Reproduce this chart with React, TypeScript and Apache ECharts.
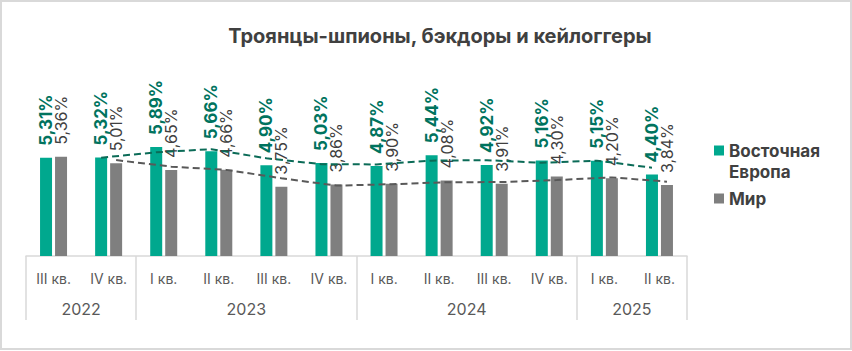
import React, { useEffect, useRef } from 'react';
import * as echarts from 'echarts';

const chartTitle = 'Троянцы-шпионы, бэкдоры и кейлоггеры';
const quarters = ['III кв.', 'IV кв.', 'I кв.', 'II кв.', 'III кв.', 'IV кв.', 'I кв.', 'II кв.', 'III кв.', 'IV кв.', 'I кв.', 'II кв.'];
const yearLabels = ['2022', '2023', '2024', '2025'];
const yearSpans = [2, 4, 4, 2];
const seriesNames = ['Восточная Европа', 'Мир'];
const easternEurope = [5.31, 5.32, 5.89, 5.66, 4.9, 5.03, 4.87, 5.44, 4.92, 5.16, 5.15, 4.4];
const world = [5.36, 5.01, 4.65, 4.66, 3.75, 3.86, 3.9, 4.08, 3.91, 4.3, 4.2, 3.84];

const W = 852;
const H = 351;
const GRID_LEFT = 26;
const GRID_RIGHT = 687;
const GRID_BOTTOM = 256;
const Y_MAX = 8;
const GRID_TOP = 108;
const BAND = (GRID_RIGHT - GRID_LEFT) / quarters.length;
const BAR_W = 12;
const BAR_GAP_PX = 3;
const BAR_OFFSET = (BAR_W + BAR_GAP_PX) / 2 / BAND;

const GREEN = '#00A88E';
const GREEN_DARK = '#00735E';
const GREEN_LINE = '#0B6B57';
const GRAY = '#7F7F7F';
const GRAY_TEXT = '#404040';
const GRAY_LINE = '#595959';
const AXIS_GRAY = '#D9D9D9';
const FONT = 'Inter';

// 2-period moving average trendline (as in the source spreadsheet)
function movingAverage(values: number[], offset: number): number[][] {
  const out: number[][] = [];
  for (let i = 1; i < values.length; i++) {
    out.push([i + offset, (values[i - 1] + values[i]) / 2]);
  }
  return out;
}

const groupStarts: number[] = [];
{
  let acc = 0;
  yearSpans.forEach((s) => {
    groupStarts.push(acc);
    acc += s;
  });
}
const yearAxisData = quarters.map((_, i) => {
  const g = groupStarts.findIndex((st, k) => i === st + Math.floor(yearSpans[k] / 2));
  return g >= 0 ? yearLabels[g] : '';
});

const fmt = (v: number) => v.toFixed(2).replace('.', ',') + '%';

export default function App() {
  const ref = useRef<HTMLDivElement>(null);
  useEffect(() => {
    if (!ref.current) return;
    const chart = echarts.init(ref.current, undefined, { renderer: 'svg' });
    chart.setOption({
      animation: false,
      textStyle: { fontFamily: FONT },
      title: {
        text: chartTitle,
        left: 440,
        top: 26,
        textAlign: 'center',
        padding: 0,
        textStyle: { fontFamily: FONT, fontSize: 20, fontWeight: 'bold', color: GRAY_TEXT },
      },
      graphic: [
        {
          type: 'rect',
          shape: { x: 1, y: 1, width: W - 2, height: H - 3 },
          style: { fill: 'none', stroke: AXIS_GRAY, lineWidth: 2 },
          silent: true,
        },
      ],
      legend: [
        {
          data: [seriesNames[0]],
          left: 714,
          top: 119,
          padding: 0,
          orient: 'vertical',
          icon: 'rect',
          itemWidth: 10,
          itemHeight: 10,
          // leading empty line keeps the marker level with the first word
          formatter: (n: string) => '\n' + n.replace(' ', '\n'),
          textStyle: { fontFamily: FONT, fontSize: 17, fontWeight: 'bold', color: GRAY_TEXT, lineHeight: 21 },
        },
        {
          data: [seriesNames[1]],
          left: 714,
          top: 188,
          padding: 0,
          orient: 'vertical',
          icon: 'rect',
          itemWidth: 10,
          itemHeight: 10,
          textStyle: { fontFamily: FONT, fontSize: 17, fontWeight: 'bold', color: GRAY_TEXT, lineHeight: 21 },
        },
      ],
      grid: {
        left: GRID_LEFT,
        right: W - GRID_RIGHT,
        top: GRID_TOP,
        bottom: H - GRID_BOTTOM,
        containLabel: false,
      },
      xAxis: [
        {
          type: 'category',
          data: quarters,
          position: 'bottom',
          axisLine: { show: true, lineStyle: { color: AXIS_GRAY, width: 1.5 } },
          axisTick: { show: false },
          axisLabel: { interval: 0, margin: 15, fontFamily: FONT, fontSize: 14, color: '#595959' },
        },
        {
          type: 'category',
          data: yearAxisData,
          position: 'bottom',
          axisLine: { show: false },
          axisTick: {
            show: true,
            length: 64,
            interval: (idx: number) => groupStarts.includes(idx),
            lineStyle: { color: AXIS_GRAY, width: 1.5 },
          },
          axisLabel: {
            interval: 0,
            margin: 45,
            formatter: (v: string) => (v ? `{y|${v}}` : ''),
            rich: {
              y: { fontFamily: FONT, fontSize: 16, color: '#595959', padding: [0, BAND, 0, 0] },
            },
          },
        },
        {
          type: 'value',
          min: -0.5,
          max: quarters.length - 0.5,
          show: false,
        },
      ],
      yAxis: { type: 'value', min: 0, max: Y_MAX, show: false, splitLine: { show: false } },
      series: [
        {
          name: seriesNames[0],
          type: 'bar',
          xAxisIndex: 0,
          data: easternEurope,
          barWidth: BAR_W,
          barGap: `${(BAR_GAP_PX / BAR_W) * 100}%`,
          itemStyle: { color: GREEN },
          label: {
            show: true,
            position: 'top',
            rotate: 90,
            align: 'left',
            verticalAlign: 'middle',
            distance: 12,
            formatter: (p: any) => fmt(p.value),
            fontFamily: FONT,
            fontSize: 17,
            fontWeight: 'bold',
            color: GREEN_DARK,
          },
        },
        {
          name: seriesNames[1],
          type: 'bar',
          xAxisIndex: 0,
          data: world,
          barWidth: BAR_W,
          itemStyle: { color: GRAY },
          label: {
            show: true,
            position: 'top',
            rotate: 90,
            align: 'left',
            verticalAlign: 'middle',
            distance: 12,
            formatter: (p: any) => fmt(p.value),
            fontFamily: FONT,
            fontSize: 16,
            color: GRAY_TEXT,
          },
        },
        {
          name: 'trend-ee',
          type: 'line',
          xAxisIndex: 2,
          data: movingAverage(easternEurope, -BAR_OFFSET),
          symbol: 'none',
          z: 5,
          lineStyle: { color: GREEN_LINE, width: 2, type: [7, 4] },
        },
        {
          name: 'trend-world',
          type: 'line',
          xAxisIndex: 2,
          data: movingAverage(world, BAR_OFFSET),
          symbol: 'none',
          z: 5,
          lineStyle: { color: GRAY_LINE, width: 2, type: [7, 4] },
        },
      ],
    });
    return () => chart.dispose();
  }, []);
  return <div ref={ref} style={{ position: 'absolute', left: 0, top: 0, width: W, height: H }} />;
}
